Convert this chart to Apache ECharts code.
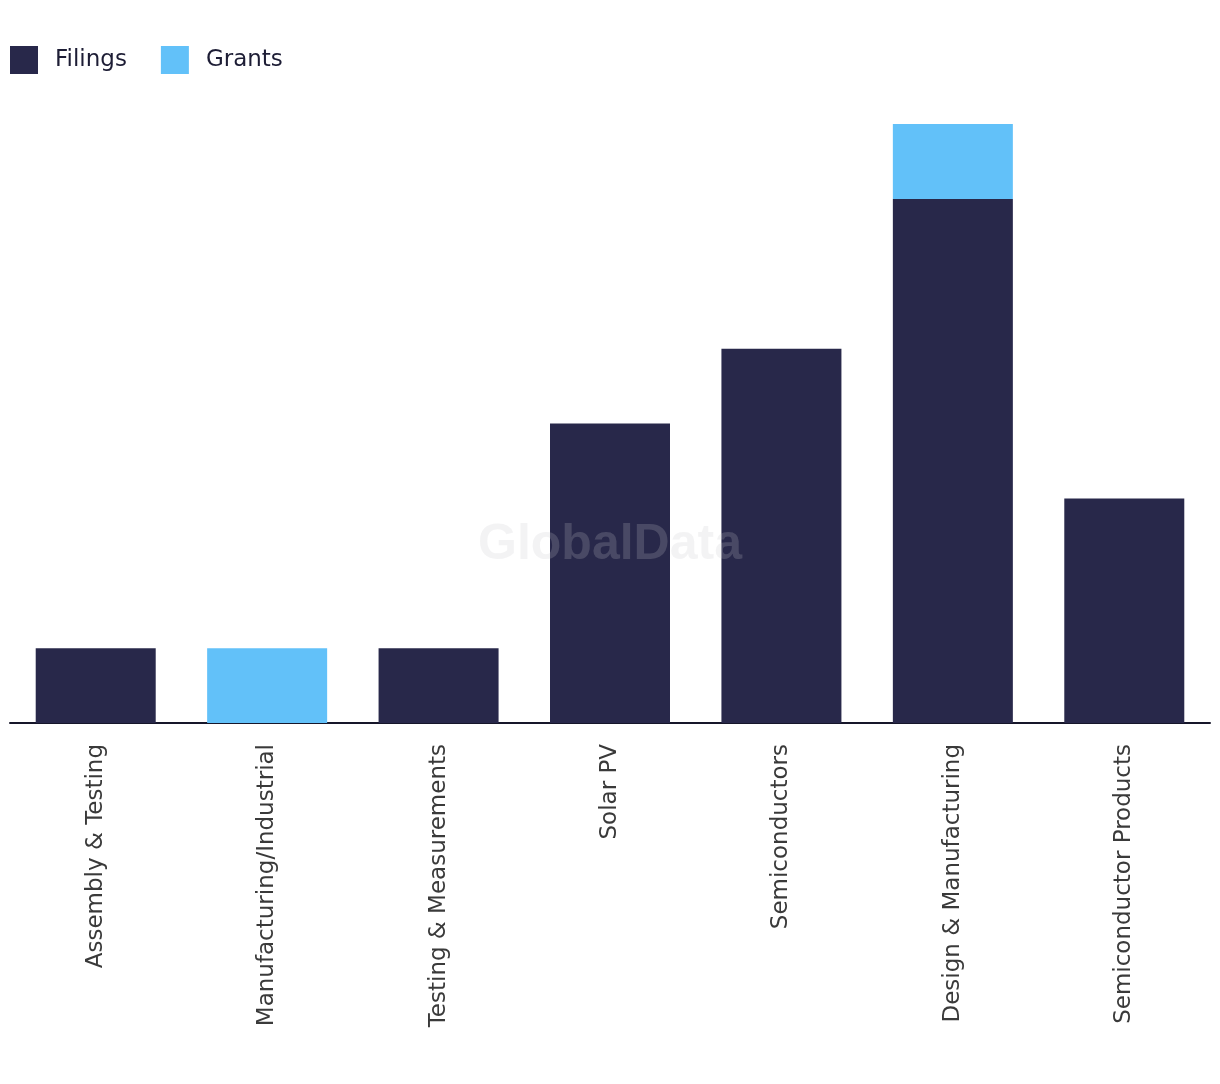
<!DOCTYPE html>
<html>
<head>
<meta charset="utf-8">
<script src="https://cdn.jsdelivr.net/npm/echarts@6/dist/echarts.min.js"></script>
<style>
  html, body { margin: 0; padding: 0; background: #fff; }
  #chart { width: 1220px; height: 1084px; }
</style>
</head>
<body>
<div id="chart"></div>
<script>
  // categories and values
  var categories = ['Assembly & Testing', 'Manufacturing/Industrial', 'Testing & Measurements',
    'Solar PV', 'Semiconductors', 'Design & Manufacturing', 'Semiconductor Products']
  var filings = [1, 0, 1, 4, 5, 7, 3]
  var grants = [0, 1, 0, 0, 0, 1, 0]

  var chart = echarts.init(document.getElementById('chart'))
  chart.setOption({
    animation: false,
    textStyle: { fontFamily: '"DejaVu Sans", sans-serif' },
    legend: {
      left: 5,
      top: 41,
      itemWidth: 28,
      itemHeight: 28,
      itemGap: 34,
      icon: 'rect',
      textStyle: { fontSize: 23, color: '#1d1d35', padding: [0, 0, 0, 12] },
      data: ['Filings', 'Grants']
    },
    grid: { left: 10, right: 10, top: 124, bottom: 361, containLabel: false },
    xAxis: {
      type: 'category',
      data: categories,
      axisLine: { lineStyle: { color: '#16162a', width: 2 } },
      axisTick: { show: false },
      axisLabel: { rotate: 90, fontSize: 23, color: '#3a3a3a', margin: 21, interval: 0 }
    },
    yAxis: {
      type: 'value',
      min: 0,
      max: 8,
      show: false,
      splitLine: { show: false }
    },
    series: [
      {
        name: 'Filings',
        type: 'bar',
        stack: 'total',
        barWidth: 120,
        itemStyle: { color: '#28284a' },
        data: filings
      },
      {
        name: 'Grants',
        type: 'bar',
        stack: 'total',
        barWidth: 120,
        itemStyle: { color: '#62c1f9' },
        data: grants
      }
    ],
    graphic: [{
      type: 'text',
      left: 'center',
      top: 520,
      z: 100,
      silent: true,
      style: {
        text: 'GlobalData',
        font: 'bold 50px "Liberation Sans", sans-serif',
        fill: 'rgba(199,199,205,0.21)'
      }
    }]
  })
</script>
</body>
</html>
